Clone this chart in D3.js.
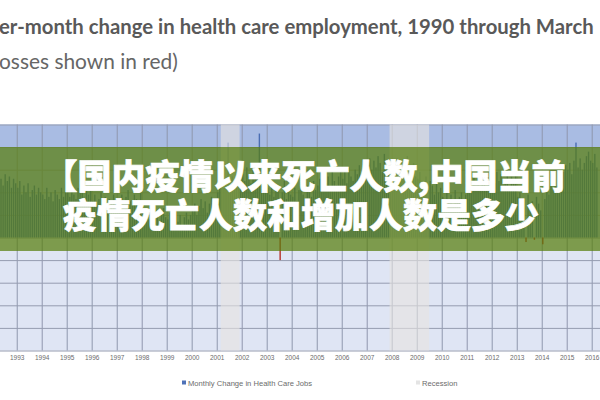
<!DOCTYPE html>
<html>
<head>
<meta charset="utf-8">
<script src="https://cdn.jsdelivr.net/npm/d3@7"></script>
<style>
  body { margin: 0; background: #fff; overflow: hidden; }
  svg { display: block; }
  .yr text { font-family: "Liberation Sans", sans-serif; font-size: 6.5px; fill: #6b6b6b; }
  .legend text { font-family: "Liberation Sans", sans-serif; font-size: 7.6px; fill: #6b6b6b; }
</style>
</head>
<body>
<div id="chart-container"></div>
<script>
// monthly change in health care jobs (thousands), Jan 1990 .. Mar 2016
const startYear = 1990;
const jobChanges = [
  38, 34, 40, 30, 36, 33, 35, 31, 37, 29, 33, 35,   // 1990
  30, 34, 28, 31, 27, 33, 29, 32, 26, 30, 28, 31,   // 1991
  27, 30, 24, 29, 26, 23, 28, 25, 27, 22, 26, 24,   // 1992
  22, 25, 19, 23, 20, 24, 18, 21, 23, 19, 22, 20,   // 1993
  19, 17, 22, 18, 20, 16, 21, 19, 17, 22, 18, 20,   // 1994
  21, 18, 23, 19, 17, 22, 20, 24, 18, 21, 19, 23,   // 1995
  16, 19, 14, 17, 20, 15, 18, 13, 17, 15, 19, 16,   // 1996
  17, 14, 19, 15, 18, 21, 16, 14, 19, 17, 15, 20,   // 1997
  13, 10, 12, 8, 11, 14, 9, 12, 7, 10, 13, 9,       // 1998
  8, 11, 6, 9, 12, 7, 10, 5, 9, 11, 8, 10,          // 1999
  12, 15, 10, 14, 17, 13, 16, 11, 15, 18, 14, 17,   // 2000
  20, 23, 26, 22, 25, 42, 24, 27, 21, 29, 26, 30,   // 2001
  28, 25, 31, 27, 24, 30, 26, 29, 46, 23, 28, 25,   // 2002
  22, 19, 24, 18, 21, 23, -10, 20, 25, 17, 22, 19,  // 2003
  18, 22, 16, 21, 24, 19, 17, 23, 20, 18, 25, 21,   // 2004
  23, 26, 21, 28, 24, 27, 22, 29, 25, 23, 27, 30,   // 2005
  26, 29, 24, 31, 27, 25, 30, 28, 32, 26, 29, 27,   // 2006
  32, 35, 30, 34, 31, 36, 33, 29, 37, 32, 34, 31,   // 2007
  33, 30, 35, 31, 34, 29, 32, 36, 28, 31, 33, 27,   // 2008
  26, 29, 24, 22, 27, 21, 25, 23, 19, 24, 20, 22,   // 2009
  18, 15, 20, 17, 19, 14, 21, 16, 18, 20, 15, 19,   // 2010
  22, 25, 20, 27, 23, 26, 21, 28, 24, 22, 26, 25,   // 2011
  27, 24, 29, 25, 28, 23, 26, 30, 22, 27, 25, 28,   // 2012
  18, 20, 15, 17, -2, 19, 14, 16, -1, 18, 15, 12,   // 2013
  -3, 17, 22, 19, 24, 21, 26, 23, 28, 25, 29, 32,   // 2014
  30, 33, 28, 34, 42, 31, 35, 30, 33, 36, 38, 34,   // 2015
  33, 37, 31                                        // 2016
];
// recessions as [startYear, startMonth, endYear, endMonth] (months 0-based)
const recessions = [[2001, 2, 2001, 10], [2007, 11, 2009, 5]];
const tickYears = [1990, 1991, 1992, 1993, 1994, 1995, 1996, 1997, 1998, 1999, 2000, 2001, 2002,
  2003, 2004, 2005, 2006, 2007, 2008, 2009, 2010, 2011, 2012, 2013, 2014, 2015, 2016];
const yTicks = [-50, -40, -30, -20, -10, 0, 10, 20, 30, 40, 50];
const legendItems = ["Monthly Change in Health Care Jobs", "Recession"];
const titleText = "er-month change in health care employment, 1990 through March";
const subtitleText = "osses shown in red)";
const bannerLines = ["【国内疫情以来死亡人数,中国当前", "疫情死亡人数和增加人数是多少"];

const W = 600, H = 400;
const plot = {top: 124.5, bottom: 350.5, right: 600};

const svg = d3.select("#chart-container")
  .append("svg")
  .attr("width", W)
  .attr("height", H);

const x = d3.scaleTime()
  .domain([new Date(1990, 0, 1), new Date(2016, 0, 1)])
  .range([-58.3, 591.7]);
const y = d3.scaleLinear()
  .domain([-50, 50])
  .range([plot.bottom, plot.top]);

const x0 = x(new Date(1990, 0, 1));
const plotW = plot.right - x0;

// plot background: darker above zero, light below
svg.append("rect")
  .attr("x", x0).attr("y", y(50))
  .attr("width", plotW).attr("height", y(0) - y(50))
  .attr("fill", "#a9bce3");
svg.append("rect")
  .attr("x", x0).attr("y", y(0))
  .attr("width", plotW).attr("height", y(-50) - y(0))
  .attr("fill", "#dfe5f4");

// gridlines
const gx = svg.append("g")
  .attr("transform", `translate(0,${plot.bottom})`)
  .call(d3.axisBottom(x)
    .tickValues(tickYears.map(d => new Date(d, 0, 1)))
    .tickSize(-(plot.bottom - plot.top))
    .tickFormat(""));
gx.select(".domain").remove();
gx.selectAll("line").attr("stroke", "#8f97ad").attr("stroke-width", 1);

const gy = svg.append("g")
  .attr("transform", `translate(${x0},0)`)
  .call(d3.axisLeft(y)
    .tickValues(yTicks)
    .tickSize(-plotW)
    .tickFormat(""));
gy.select(".domain").remove();
gy.selectAll("line").attr("stroke", "#959cb0").attr("stroke-width", 1);

// bars
const data = jobChanges.map((v, i) => ({
  date: new Date(startYear + Math.floor(i / 12), i % 12, 1),
  next: new Date(startYear + Math.floor((i + 1) / 12), (i + 1) % 12, 1),
  value: v
}));
svg.selectAll("rect.bar")
  .data(data)
  .join("rect")
  .attr("class", "bar")
  .attr("x", d => (x(d.date) + x(d.next)) / 2 - 0.7)
  .attr("width", 1.4)
  .attr("y", d => y(Math.max(0, d.value)))
  .attr("height", d => Math.abs(y(d.value) - y(0)))
  .attr("fill", d => d.value < 0 ? "#b5322a" : "#4a6db3");

// recession bands
svg.selectAll("rect.rec")
  .data(recessions)
  .join("rect")
  .attr("class", "rec")
  .attr("x", d => x(new Date(d[0], d[1], 1)))
  .attr("width", d => x(new Date(d[2], d[3] + 1, 1)) - x(new Date(d[0], d[1], 1)))
  .attr("y", plot.top)
  .attr("height", plot.bottom - plot.top)
  .attr("fill", "#e6e4e0")
  .attr("opacity", 0.62);

// year labels (only the ones inside the cropped view)
const ax = svg.append("g")
  .attr("class", "yr")
  .attr("transform", `translate(0,${plot.bottom})`)
  .call(d3.axisBottom(x)
    .tickValues(tickYears.filter(d => x(new Date(d, 0, 1)) > 8).map(d => new Date(d, 0, 1)))
    .tickSize(0)
    .tickPadding(5)
    .tickFormat(d3.timeFormat("%Y")));
ax.select(".domain").remove();

// legend
const legend = svg.append("g").attr("class", "legend");
legend.append("rect").attr("x", 182).attr("y", 380.5).attr("width", 4).attr("height", 4).attr("fill", "#4f72b8");
legend.append("text").attr("x", 188).attr("y", 385.5).text(legendItems[0]);
legend.append("rect").attr("x", 416).attr("y", 380.5).attr("width", 4).attr("height", 4).attr("fill", "#e4e4e4");
legend.append("text").attr("x", 422).attr("y", 385.5).text(legendItems[1]);

// title (cropped on the left in the source)
function fitWidth(sel, target) {
  const fs = parseFloat(sel.style("font-size"));
  const w = sel.node().getComputedTextLength();
  sel.style("font-size", (fs * target / w) + "px");
}
const title = svg.append("text")
  .attr("x", -1).attr("y", 34)
  .style("font-family", "Lato, sans-serif")
  .style("font-weight", 700)
  .style("font-size", "19px")
  .attr("fill", "#595959")
  .text(titleText);
fitWidth(title, 595);

const sub = svg.append("text")
  .attr("x", -1).attr("y", 69)
  .style("font-family", "Lato, sans-serif")
  .style("font-size", "19px")
  .attr("fill", "#666")
  .text(subtitleText);
fitWidth(sub, 179);

// green banner over the chart
svg.append("rect")
  .attr("x", 0).attr("y", 147)
  .attr("width", W).attr("height", 104)
  .attr("fill", "rgb(87,126,12)")
  .attr("opacity", 0.72);

// two-line headline as one text block
const banner = svg.append("text")
  .attr("y", 189)
  .style("font-family", "'Noto Sans CJK SC', sans-serif")
  .style("font-weight", 900)
  .style("font-size", "34px")
  .attr("fill", "#fff")
  .attr("stroke", "#fff")
  .attr("stroke-width", 0.7);
banner.selectAll("tspan")
  .data(bannerLines)
  .join("tspan")
  .attr("x", (d, i) => i === 0 ? 43.5 : 63)
  .attr("dy", (d, i) => i === 0 ? 0 : 39)
  .text(d => d);
</script>
</body>
</html>
